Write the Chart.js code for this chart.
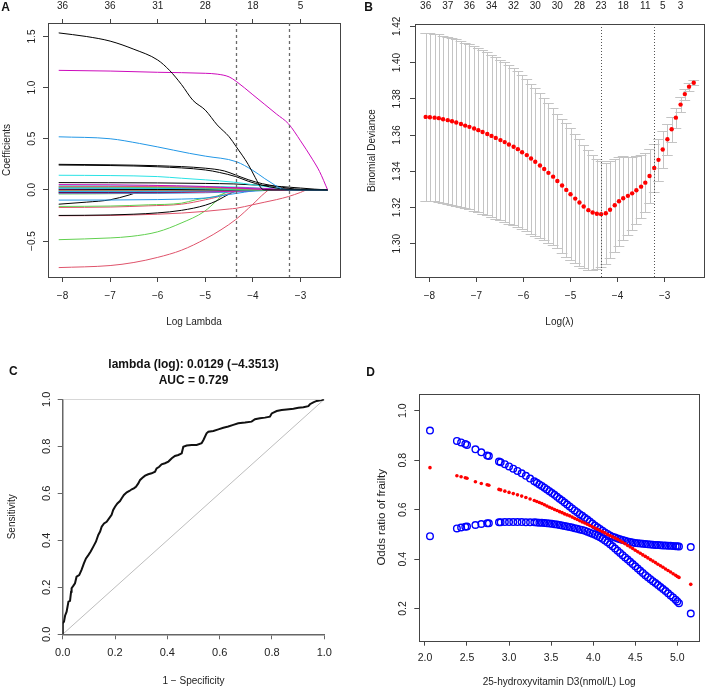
<!DOCTYPE html>
<html>
<head>
<meta charset="utf-8">
<script src="https://cdn.jsdelivr.net/npm/chart.js@4.4.1/dist/chart.umd.min.js"></script>
<style>
html,body{margin:0;padding:0;background:#fff;}
#wrap{position:relative;width:708px;height:690px;overflow:hidden;background:#fff;}
canvas{position:absolute;}
.lbl{position:absolute;font:bold 12px 'Liberation Sans',Arial,sans-serif;color:#111;transform:translate(-50%,-50%);line-height:12px;}
</style>
</head>
<body>
<div id="wrap">
<canvas id="cA" width="354" height="345" style="left:0;top:0"></canvas>
<canvas id="cB" width="354" height="345" style="left:354px;top:0"></canvas>
<canvas id="cC" width="354" height="345" style="left:0;top:345px"></canvas>
<canvas id="cD" width="354" height="345" style="left:354px;top:345px"></canvas>
<div class="lbl" style="left:5.5px;top:6.5px">A</div>
<div class="lbl" style="left:368.5px;top:6.5px">B</div>
<div class="lbl" style="left:13.3px;top:370.5px">C</div>
<div class="lbl" style="left:370.7px;top:372px">D</div>
</div>
<script>
// ================= DATA =================
// Panel A : LASSO coefficient paths  ([log lambda, coefficient] pairs)
const coefXTicks = [-8, -7, -6, -5, -4, -3];
const coefYTicks = [-0.5, 0, 0.5, 1.0, 1.5];
const coefTopLabels = ['36', '36', '31', '28', '18', '5'];
const coefCutoffs = [-4.35, -3.24];
const coefColors = ['#000000', '#CD0BBC', '#2297E6', '#000000', '#000000', '#28E2E5', '#000000', '#CD0BBC',
  '#DF536B', '#61D04F', '#2297E6', '#28E2E5', '#CD0BBC', '#000000', '#DF536B', '#61D04F', '#2297E6', '#28E2E5',
  '#CD0BBC', '#000000', '#DF536B', '#2297E6', '#61D04F', '#28E2E5',
  '#2297E6', '#000000', '#61D04F', '#DF536B', '#000000', '#DF536B', '#61D04F', '#DF536B'];
const coefPaths = [
  [[-8.08,1.535],[-7.5,1.50],[-7.0,1.455],[-6.5,1.375],[-6.0,1.27],[-5.75,1.168],[-5.5,1.03],[-5.26,0.876],[-5.0,0.78],[-4.75,0.635],[-4.5,0.52],[-4.35,0.422],[-4.1,0.25],[-3.95,0.12],[-3.83,0.02],[-3.76,0],[-2.43,0]],
  [[-8.08,1.169],[-7,1.162],[-6,1.150],[-5.0,1.140],[-4.75,1.132],[-4.5,1.105],[-4.35,1.061],[-4.0,0.93],[-3.75,0.835],[-3.5,0.74],[-3.25,0.645],[-3.0,0.48],[-2.75,0.30],[-2.6,0.18],[-2.43,0]],
  [[-8.08,0.519],[-7,0.50],[-6.38,0.454],[-6,0.42],[-5.33,0.357],[-5,0.33],[-4.35,0.276],[-4.0,0.19],[-3.75,0.11],[-3.55,0.05],[-3.4,0.01],[-3.3,0],[-2.43,0]],
  [[-8.08,0.25],[-7,0.245],[-6,0.236],[-5,0.212],[-4.6,0.185],[-4.36,0.145],[-4.1,0.10],[-3.8,0.06],[-3.5,0.035],[-3.26,0.016],[-3.0,0.006],[-2.43,0]],
  [[-8.08,0.243],[-7,0.238],[-6,0.226],[-5,0.195],[-4.7,0.17],[-4.36,0.13],[-4.1,0.085],[-3.8,0.045],[-3.5,0.018],[-3.2,0.004],[-3.0,0],[-2.43,0]],
  [[-8.08,0.143],[-7,0.14],[-6,0.13],[-5.5,0.114],[-5,0.098],[-4.4,0.075],[-4.0,0.05],[-3.7,0.03],[-3.4,0.01],[-3.2,0],[-2.43,0]],
  [[-8.08,0.071],[-6,0.068],[-5,0.063],[-4.4,0.058],[-3.4,0.032],[-3.0,0.018],[-2.7,0.007],[-2.43,0]],
  [[-8.08,0.052],[-7,0.05],[-6.2,0.045],[-5,0.033],[-4.35,0.019],[-3.8,0.006],[-3.6,0],[-2.43,0]],
  [[-8.08,0.035],[-6,0.032],[-5,0.025],[-4.35,0.015],[-3.8,0.005],[-3.4,0],[-2.43,0]],
  [[-8.08,0.028],[-6,0.025],[-5,0.018],[-4.5,0.008],[-4,0],[-2.43,0]],
  [[-8.08,0.022],[-6,0.02],[-5,0.016],[-4.35,0.012],[-3.6,0.004],[-3.2,0],[-2.43,0]],
  [[-8.08,0.016],[-6,0.014],[-5,0.01],[-4.5,0.004],[-4.2,0],[-2.43,0]],
  [[-8.08,0.010],[-6.5,0.015],[-5.5,0.02],[-4.5,0.022],[-3.8,0.015],[-3.2,0.004],[-2.9,0],[-2.43,0]],
  [[-8.08,0.005],[-6,0.004],[-5,0.002],[-4.6,0],[-2.43,0]],
  [[-8.08,-0.002],[-6,-0.002],[-5,-0.001],[-4.7,0],[-2.43,0]],
  [[-8.08,-0.006],[-6,-0.005],[-5,-0.003],[-4.5,0],[-2.43,0]],
  [[-8.08,-0.012],[-6,-0.011],[-5,-0.008],[-4.35,-0.004],[-3.9,0],[-2.43,0]],
  [[-8.08,-0.016],[-6,-0.014],[-5,-0.01],[-4.4,-0.004],[-4.1,0],[-2.43,0]],
  [[-8.08,-0.02],[-6,-0.02],[-5,-0.018],[-4.35,-0.012],[-3.8,-0.004],[-3.4,0],[-2.43,0]],
  [[-8.08,-0.025],[-6,-0.022],[-5,-0.015],[-4.5,-0.005],[-4.2,0],[-2.43,0]],
  [[-8.08,-0.03],[-6,-0.028],[-5,-0.022],[-4.35,-0.012],[-3.9,0],[-2.43,0]],
  [[-8.08,-0.036],[-6,-0.034],[-5,-0.028],[-4.35,-0.02],[-3.8,-0.008],[-3.5,0],[-2.43,0]],
  [[-8.08,-0.04],[-6.5,-0.035],[-5.5,-0.02],[-5,-0.008],[-4.7,0],[-2.43,0]],
  [[-8.08,0.04],[-6,0.038],[-5,0.034],[-4.35,0.028],[-3.8,0.015],[-3.5,0.005],[-3.3,0],[-2.43,0]],
  [[-8.08,-0.10],[-7,-0.099],[-6,-0.095],[-5.5,-0.09],[-5,-0.08],[-4.5,-0.045],[-4.35,-0.035],[-4.0,-0.01],[-3.8,0],[-2.43,0]],
  [[-8.08,-0.14],[-7.5,-0.12],[-7,-0.097],[-6.6,-0.05],[-6.3,-0.006],[-6.2,0],[-2.43,0]],
  [[-8.08,-0.162],[-7,-0.158],[-6.2,-0.146],[-5.5,-0.13],[-5.2,-0.097],[-4.75,-0.06],[-4.5,-0.015],[-4.35,0],[-2.43,0]],
  [[-8.08,-0.172],[-7,-0.168],[-6.2,-0.156],[-5.5,-0.14],[-5,-0.097],[-4.75,-0.07],[-4.5,-0.035],[-4.35,-0.015],[-4.0,0],[-2.43,0]],
  [[-8.08,-0.25],[-7,-0.245],[-6,-0.225],[-5.5,-0.2],[-5,-0.15],[-4.75,-0.105],[-4.5,-0.04],[-4.35,-0.01],[-4.2,0],[-2.43,0]],
  [[-8.08,-0.253],[-7,-0.25],[-6,-0.238],[-5.5,-0.227],[-5,-0.21],[-4.5,-0.187],[-4.35,-0.18],[-4.0,-0.145],[-3.75,-0.12],[-3.5,-0.095],[-3.25,-0.065],[-3.0,-0.025],[-2.85,0],[-2.43,0]],
  [[-8.08,-0.487],[-7,-0.47],[-6.56,-0.455],[-6,-0.41],[-5.51,-0.325],[-5.02,-0.211],[-4.75,-0.10],[-4.6,-0.03],[-4.5,0],[-2.43,0]],
  [[-8.08,-0.76],[-7,-0.74],[-6.5,-0.71],[-6,-0.66],[-5.5,-0.59],[-5,-0.48],[-4.67,-0.39],[-4.36,-0.29],[-4.0,-0.14],[-3.75,-0.03],[-3.65,0],[-2.43,0]]
];

// Panel B : cross-validation curve
const cvLogLambda = [-8.08,-7.99,-7.89,-7.80,-7.71,-7.61,-7.52,-7.43,-7.33,-7.24,
  -7.15,-7.05,-6.96,-6.87,-6.77,-6.68,-6.59,-6.49,-6.40,-6.31,
  -6.21,-6.12,-6.03,-5.93,-5.84,-5.75,-5.65,-5.56,-5.47,-5.37,
  -5.28,-5.18,-5.09,-5.00,-4.90,-4.81,-4.72,-4.62,-4.53,-4.44,
  -4.35,-4.25,-4.16,-4.06,-3.97,-3.88,-3.78,-3.69,-3.60,-3.50,
  -3.41,-3.32,-3.22,-3.13,-3.04,-2.94,-2.85,-2.76,-2.66,-2.57,
  -2.48,-2.38];
const cvMean = [1.3700,1.3698,1.3696,1.3693,1.3687,1.3682,1.3676,1.3669,1.3661,1.3652,
  1.3645,1.3636,1.3627,1.3617,1.3606,1.3595,1.3584,1.3572,1.3561,1.3548,
  1.3535,1.3522,1.3505,1.3489,1.3470,1.3452,1.3432,1.3412,1.3391,1.3370,
  1.3346,1.3321,1.3297,1.3273,1.3249,1.3227,1.3205,1.3185,1.3172,1.3165,
  1.3163,1.3168,1.3187,1.3212,1.3234,1.3251,1.3264,1.3278,1.3295,1.3315,
  1.3337,1.3374,1.3418,1.3463,1.3520,1.3577,1.3632,1.3696,1.3768,1.3826,
  1.3867,1.3889];
const cvSd = [0.0464,0.0464,0.0463,0.0463,0.0462,0.0461,0.0460,0.0459,0.0458,0.0457,
  0.0456,0.0455,0.0453,0.0452,0.0450,0.0448,0.0446,0.0443,0.0440,0.0437,
  0.0434,0.0430,0.0425,0.0420,0.0414,0.0408,0.0401,0.0394,0.0386,0.0378,
  0.0372,0.0370,0.0368,0.0364,0.0358,0.0350,0.0340,0.0330,0.0318,0.0305,
  0.0293,0.0280,0.0268,0.0257,0.0245,0.0231,0.0216,0.0202,0.0187,0.0174,
  0.0162,0.0150,0.0132,0.0115,0.0100,0.0085,0.0070,0.0055,0.0042,0.0030,
  0.0022,0.0015];
const cvXTicks = [-8, -7, -6, -5, -4, -3];
const cvYTicks = [1.30, 1.32, 1.34, 1.36, 1.38, 1.40, 1.42];
const cvTopIndex = [0, 5, 10, 15, 20, 25, 30, 35, 40, 45, 50, 54, 58];
const cvNonzero = ['36','37','36','34','32','30','30','28','23','18','11','5','3'];
const cvCutoffs = [-4.35, -3.22];

// Panel C : ROC curve
const rocFpr = [0,0,0.005,0.009,0.015,0.022,0.028,0.032,0.034,0.041,0.047,0.053,0.063,0.072,0.081,0.089,0.098,0.107,0.117,0.127,
  0.136,0.143,0.149,0.158,0.168,0.178,0.187,0.193,0.200,0.209,0.219,0.225,0.234,0.245,0.255,0.264,0.272,0.280,0.289,0.296,
  0.306,0.315,0.327,0.340,0.353,0.359,0.369,0.378,0.391,0.404,0.417,0.429,0.442,0.455,0.461,0.474,0.493,0.512,0.531,0.538,
  0.550,0.557,0.576,0.595,0.614,0.633,0.652,0.671,0.697,0.722,0.735,0.754,0.773,0.792,0.799,0.818,0.837,0.856,0.882,0.901,
  0.920,0.939,0.945,0.958,0.971,0.990,1];
const rocTpr = [0,0.047,0.054,0.079,0.096,0.139,0.142,0.181,0.196,0.207,0.217,0.245,0.252,0.274,0.302,0.323,0.337,0.352,0.373,0.394,
  0.423,0.437,0.458,0.472,0.479,0.494,0.508,0.529,0.543,0.557,0.567,0.578,0.593,0.604,0.610,0.617,0.621,0.628,0.642,0.657,
  0.667,0.675,0.681,0.685,0.692,0.706,0.713,0.723,0.728,0.735,0.749,0.759,0.763,0.770,0.798,0.803,0.806,0.806,0.813,0.827,
  0.855,0.862,0.865,0.872,0.879,0.884,0.891,0.898,0.901,0.905,0.915,0.919,0.922,0.926,0.940,0.950,0.954,0.957,0.960,0.964,
  0.966,0.971,0.979,0.987,0.993,0.997,1];
const rocTicks = [0, 0.2, 0.4, 0.6, 0.8, 1.0];
const rocTitle = ['lambda (log): 0.0129 (\u22124.3513)', 'AUC = 0.729'];

// Panel D : odds ratio vs log 25(OH)D3
const vitDLog = [2.06,2.38,2.43,2.48,2.50,2.60,2.67,2.74,2.76,
  2.88,2.90,2.95,3.00,3.05,3.10,3.15,3.20,3.25,
  3.30,3.33,3.36,3.39,3.42,3.45,3.48,3.51,3.54,3.57,
  3.60,3.63,3.66,3.69,3.72,3.75,3.78,3.81,3.84,3.87,
  3.90,3.93,3.96,3.99,4.02,4.05,4.08,4.11,4.14,4.17,
  4.20,4.23,4.26,4.29,4.32,4.35,4.38,4.41,4.44,4.47,
  4.50,4.53,4.56,4.59,4.62,4.65,4.68,4.71,4.74,4.77,
  4.80,4.83,4.86,4.89,4.92,4.95,4.98,
  5.00,5.02,5.16];
const orUpper = [0.920,0.878,0.872,0.866,0.862,0.844,0.832,0.819,0.817,
  0.795,0.792,0.784,0.775,0.766,0.757,0.747,0.737,0.726,
  0.715,0.709,0.702,0.696,0.689,0.682,0.675,0.667,0.660,0.652,
  0.644,0.637,0.629,0.621,0.613,0.605,0.597,0.590,0.582,0.575,
  0.567,0.560,0.552,0.544,0.536,0.529,0.522,0.515,0.508,0.502,
  0.496,0.491,0.487,0.483,0.480,0.477,0.474,0.471,0.469,0.467,
  0.465,0.464,0.463,0.462,0.461,0.460,0.459,0.458,0.457,0.457,
  0.456,0.455,0.455,0.454,0.454,0.453,0.452,
  0.452,0.451,0.449];
const orFit = [0.770,0.737,0.733,0.729,0.727,0.713,0.706,0.701,0.699,
  0.682,0.680,0.675,0.670,0.665,0.660,0.655,0.649,0.643,
  0.637,0.633,0.629,0.625,0.620,0.615,0.610,0.606,0.601,0.597,
  0.592,0.588,0.583,0.579,0.575,0.570,0.565,0.560,0.555,0.550,
  0.546,0.541,0.536,0.531,0.526,0.521,0.516,0.511,0.506,0.500,
  0.495,0.490,0.485,0.480,0.474,0.468,0.462,0.455,0.449,0.443,
  0.436,0.430,0.424,0.417,0.411,0.405,0.398,0.392,0.386,0.379,
  0.373,0.367,0.360,0.354,0.348,0.341,0.335,
  0.330,0.326,0.298];
const orLower = [0.493,0.524,0.528,0.531,0.532,0.538,0.542,0.545,0.545,
  0.549,0.549,0.550,0.550,0.550,0.550,0.550,0.549,0.549,
  0.549,0.548,0.547,0.547,0.546,0.545,0.544,0.543,0.541,0.540,
  0.538,0.536,0.534,0.532,0.530,0.528,0.525,0.523,0.520,0.518,
  0.515,0.511,0.507,0.503,0.499,0.494,0.488,0.482,0.475,0.468,
  0.460,0.452,0.443,0.434,0.425,0.416,0.407,0.398,0.389,0.380,
  0.371,0.362,0.353,0.344,0.335,0.327,0.319,0.311,0.303,0.295,
  0.287,0.279,0.271,0.262,0.253,0.245,0.236,
  0.229,0.222,0.180];
const vitDXTicks = [2.0, 2.5, 3.0, 3.5, 4.0, 4.5, 5.0];
const orYTicks = [0.2, 0.4, 0.6, 0.8, 1.0];

// ================= HELPERS =================
const FONT = "'Liberation Sans', Arial, Helvetica, sans-serif";
Chart.defaults.font.family = FONT;
Chart.defaults.color = '#222';

function fmt(v, d) { return (v < -1e-9 ? '\u2212' : '') + Math.abs(v).toFixed(d); }
function pinned(prop, val) {
  return s => { s[prop] = val; s.paddingLeft = 0; s.paddingRight = 0; s.paddingTop = 0; s.paddingBottom = 0; };
}
function tickAt(vals) { return s => { s.ticks = vals.map(v => ({ value: v })); }; }
function tickGrid(len, color) { return { display: true, drawOnChartArea: false, drawTicks: true, tickLength: len, color: color || '#444', lineWidth: 1 }; }
const pairs = (xs, ys) => xs.map((x, i) => ({ x: x, y: ys[i] }));

const boxPlugin = {
  id: 'box',
  afterDatasetsDraw(chart, args, o) {
    if (!o || !o.show) return;
    const a = chart.chartArea, ctx = chart.ctx;
    ctx.save();
    ctx.strokeStyle = o.color; ctx.lineWidth = o.width;
    const l = Math.round(a.left) + 0.5, t = Math.round(a.top) + 0.5;
    const r = Math.round(a.right) + 0.5, b = Math.round(a.bottom) + 0.5;
    ctx.strokeRect(l, t, r - l, b - t);
    ctx.restore();
  }
};
const vlinePlugin = {
  id: 'vlines',
  afterDatasetsDraw(chart, args, o) {
    if (!o || !o.values) return;
    const xs = chart.scales.x, a = chart.chartArea, ctx = chart.ctx;
    ctx.save();
    ctx.strokeStyle = o.color; ctx.lineWidth = o.width; ctx.setLineDash(o.dash);
    o.values.forEach(v => {
      const px = Math.round(xs.getPixelForValue(v)) + 0.5;
      ctx.beginPath(); ctx.moveTo(px, a.top); ctx.lineTo(px, a.bottom); ctx.stroke();
    });
    ctx.restore();
  }
};
const errPlugin = {
  id: 'errbars',
  beforeDatasetsDraw(chart) {
    const xs = chart.scales.x, ys = chart.scales.y, ctx = chart.ctx;
    const span = cvLogLambda[cvLogLambda.length - 1] - cvLogLambda[0];
    const barw = span * 0.02;
    ctx.save();
    ctx.strokeStyle = '#c4c4c4'; ctx.lineWidth = 1;
    cvLogLambda.forEach((x, i) => {
      const px = Math.round(xs.getPixelForValue(x)) + 0.5;
      const pu = Math.round(ys.getPixelForValue(cvMean[i] + cvSd[i])) + 0.5;
      const pl = Math.round(ys.getPixelForValue(cvMean[i] - cvSd[i])) + 0.5;
      const p0 = xs.getPixelForValue(x - barw), p1 = xs.getPixelForValue(x + barw);
      ctx.beginPath();
      ctx.moveTo(px, pu); ctx.lineTo(px, pl);
      ctx.moveTo(p0, pu); ctx.lineTo(p1, pu);
      ctx.moveTo(p0, pl); ctx.lineTo(p1, pl);
      ctx.stroke();
    });
    ctx.restore();
  }
};
const common = { responsive: false, animation: false, devicePixelRatio: 1, events: [] };

// ================= PANEL A =================
new Chart(document.getElementById('cA'), {
  type: 'line',
  data: {
    datasets: coefPaths.map((p, k) => ({
      data: p.map(q => ({ x: q[0], y: q[1] })),
      borderColor: coefColors[k], borderWidth: 1, pointRadius: 0,
      cubicInterpolationMode: 'monotone', fill: false
    }))
  },
  options: Object.assign({}, common, {
    layout: { padding: { left: 0, top: 0, right: 14, bottom: 0 } },
    scales: {
      x: { type: 'linear', position: 'bottom', min: -8.305, max: -2.17,
        afterBuildTicks: tickAt(coefXTicks), afterFit: pinned('height', 68),
        grid: tickGrid(5), border: { display: false },
        ticks: { autoSkip: false, maxRotation: 0, padding: 8, font: { size: 10 }, callback: v => fmt(v, 0) },
        title: { display: true, text: 'Log Lambda', font: { size: 10 }, padding: { top: 0, bottom: 17 } } },
      xTop: { type: 'linear', position: 'top', min: -8.305, max: -2.17,
        afterBuildTicks: tickAt(coefXTicks), afterFit: pinned('height', 23),
        grid: tickGrid(4), border: { display: false },
        ticks: { autoSkip: false, maxRotation: 0, padding: 7, font: { size: 10 }, callback: (v, i) => coefTopLabels[i] } },
      y: { type: 'linear', position: 'left', min: -0.852, max: 1.632,
        afterBuildTicks: tickAt(coefYTicks), afterFit: pinned('width', 48),
        grid: tickGrid(5), border: { display: false },
        ticks: { autoSkip: false, minRotation: 90, maxRotation: 90, crossAlign: 'center', padding: 1, font: { size: 10 }, callback: v => fmt(v, 1) },
        title: { display: true, text: 'Coefficients', font: { size: 10 }, padding: { top: 1, bottom: 0 } } }
    },
    plugins: {
      legend: { display: false }, tooltip: { enabled: false },
      box: { show: true, color: '#444', width: 1 },
      vlines: { values: coefCutoffs, color: '#6a6a6a', width: 1.3, dash: [3, 3] }
    }
  }),
  plugins: [boxPlugin, vlinePlugin]
});

// ================= PANEL B =================
new Chart(document.getElementById('cB'), {
  type: 'scatter',
  data: {
    datasets: [{
      data: pairs(cvLogLambda, cvMean),
      pointRadius: 2.2, pointBackgroundColor: '#ff0000', pointBorderWidth: 0, showLine: false
    }]
  },
  options: Object.assign({}, common, {
    layout: { padding: { left: 0, top: 0, right: 2, bottom: 0 } },
    scales: {
      x: { type: 'linear', position: 'bottom', min: -8.307, max: -2.162,
        afterBuildTicks: tickAt(cvXTicks), afterFit: pinned('height', 68),
        grid: tickGrid(5), border: { display: false },
        ticks: { autoSkip: false, maxRotation: 0, padding: 8.7, font: { size: 10 }, callback: v => fmt(v, 0) },
        title: { display: true, text: 'Log(\u03bb)', font: { size: 10 }, padding: { top: 0, bottom: 17 } } },
      xTop: { type: 'linear', position: 'top', min: -8.307, max: -2.162,
        afterBuildTicks: tickAt(cvTopIndex.map(i => cvLogLambda[i])), afterFit: pinned('height', 24),
        grid: { display: false, drawTicks: false, tickLength: 0 }, border: { display: false },
        ticks: { autoSkip: false, maxRotation: 0, padding: 12, font: { size: 10 }, callback: (v, i) => cvNonzero[i] } },
      y: { type: 'linear', position: 'left', min: 1.2816, max: 1.4213,
        afterBuildTicks: tickAt(cvYTicks), afterFit: pinned('width', 61),
        grid: tickGrid(5), border: { display: false },
        ticks: { autoSkip: false, minRotation: 90, maxRotation: 90, crossAlign: 'center', padding: 3, font: { size: 10 }, callback: v => v.toFixed(2) },
        title: { display: true, text: 'Binomial Deviance', font: { size: 10 }, padding: { top: 12.5, bottom: 0 } } }
    },
    plugins: {
      legend: { display: false }, tooltip: { enabled: false },
      box: { show: true, color: '#444', width: 1 },
      vlines: { values: cvCutoffs, color: '#555', width: 1, dash: [1, 2] }
    }
  }),
  plugins: [errPlugin, boxPlugin, vlinePlugin]
});

// ================= PANEL C =================
new Chart(document.getElementById('cC'), {
  type: 'line',
  data: {
    datasets: [
      { data: pairs(rocFpr, rocTpr), borderColor: '#111', borderWidth: 2, pointRadius: 0, tension: 0, fill: false },
      { data: pairs([0, 1], [0, 1]), borderColor: '#bdbdbd', borderWidth: 1, pointRadius: 0, fill: false },
      { data: pairs([0, 1], [1, 1]), borderColor: '#bdbdbd', borderWidth: 1, pointRadius: 0, fill: false }
    ]
  },
  options: Object.assign({}, common, {
    layout: { padding: { left: 0, top: 0, right: 29.7, bottom: 0 } },
    scales: {
      x: { type: 'linear', position: 'bottom', min: 0, max: 1,
        afterBuildTicks: tickAt(rocTicks), afterFit: pinned('height', 55.7),
        grid: tickGrid(5, '#666'), border: { display: true, color: '#666', width: 1.5 },
        ticks: { autoSkip: false, maxRotation: 0, padding: 7.4, font: { size: 11 }, callback: v => v.toFixed(1) },
        title: { display: true, text: '1 \u2212 Specificity', font: { size: 10 }, padding: { top: 0, bottom: 3 } } },
      y: { type: 'linear', position: 'left', min: 0, max: 1,
        afterBuildTicks: tickAt(rocTicks), afterFit: pinned('width', 62.7),
        grid: tickGrid(5, '#666'), border: { display: true, color: '#666', width: 1.5 },
        ticks: { autoSkip: false, minRotation: 90, maxRotation: 90, crossAlign: 'center', padding: 3.3, font: { size: 11 }, callback: v => v.toFixed(1) },
        title: { display: true, text: 'Sensitivity', font: { size: 10 }, padding: { top: 6.3, bottom: 0 } } }
    },
    plugins: {
      legend: { display: false }, tooltip: { enabled: false },
      title: { display: true, text: rocTitle, fullSize: false, color: '#111',
        font: { size: 12, weight: 'bold', lineHeight: 16 / 12 }, padding: { top: 12, bottom: 10.3 } }
    }
  })
});

// ================= PANEL D =================
new Chart(document.getElementById('cD'), {
  type: 'scatter',
  data: {
    datasets: [
      { data: pairs(vitDLog, orFit), pointRadius: 1.8, pointBackgroundColor: '#ff0000', pointBorderWidth: 0, showLine: false },
      { data: pairs(vitDLog, orUpper), pointRadius: 3.3, pointBackgroundColor: 'rgba(0,0,0,0)', pointBorderColor: '#0000ff', pointBorderWidth: 1.4, showLine: false },
      { data: pairs(vitDLog, orLower), pointRadius: 3.3, pointBackgroundColor: 'rgba(0,0,0,0)', pointBorderColor: '#0000ff', pointBorderWidth: 1.4, showLine: false }
    ]
  },
  options: Object.assign({}, common, {
    layout: { padding: { left: 0, top: 49, right: 9, bottom: 0 } },
    scales: {
      x: { type: 'linear', position: 'bottom', min: 1.933, max: 5.258,
        afterBuildTicks: tickAt(vitDXTicks), afterFit: pinned('height', 49.3),
        grid: tickGrid(5), border: { display: false },
        ticks: { autoSkip: false, maxRotation: 0, padding: 6.3, font: { size: 10.5 }, callback: v => v.toFixed(1) },
        title: { display: true, text: '25-hydroxyvitamin D3(nmol/L) Log', font: { size: 10 }, padding: { top: 0, bottom: 2 } } },
      y: { type: 'linear', position: 'left', min: 0.070, max: 1.068,
        afterBuildTicks: tickAt(orYTicks), afterFit: pinned('width', 65.3),
        grid: tickGrid(5), border: { display: false },
        ticks: { autoSkip: false, minRotation: 90, maxRotation: 90, crossAlign: 'center', padding: 3.7, font: { size: 10.5 }, callback: v => v.toFixed(1) },
        title: { display: true, text: 'Odds ratio of frailty', font: { size: 11.5 }, padding: { top: 21.4, bottom: 0 } } }
    },
    plugins: {
      legend: { display: false }, tooltip: { enabled: false },
      box: { show: true, color: '#444', width: 1 }
    }
  }),
  plugins: [boxPlugin]
});
</script>
</body>
</html>
